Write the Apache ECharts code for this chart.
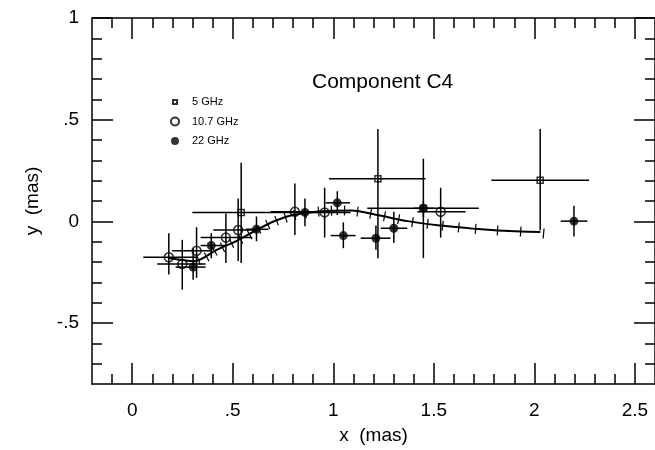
<!DOCTYPE html>
<html><head><meta charset="utf-8">
<script src="https://cdn.jsdelivr.net/npm/echarts@6/dist/echarts.min.js"></script>
<style>html,body{margin:0;padding:0;background:#fff}#c{width:655px;height:450px}</style>
</head><body><div id="c"></div>
<script>
// ---- 5 GHz (open squares) ----
const ghz5X   = [0.542, 1.222, 1.448, 2.029];
const ghz5Y   = [0.044, 0.210, 0.064, 0.202];
const ghz5XLo = [0.299, 0.978, 1.169, 1.786];
const ghz5XHi = [0.804, 1.459, 1.724, 2.272];
const ghz5YLo = [-0.205, -0.181, -0.181, -0.044];
const ghz5YHi = [0.288, 0.454, 0.308, 0.454];

// ---- 10.7 GHz (open circles) ----
const ghz10X   = [0.182, 0.249, 0.320, 0.466, 0.527, 0.809, 0.957, 1.534];
const ghz10Y   = [-0.177, -0.210, -0.145, -0.080, -0.043, 0.047, 0.044, 0.047];
const ghz10XLo = [0.055, 0.124, 0.199, 0.340, 0.403, 0.689, 0.838, 1.418];
const ghz10XHi = [0.323, 0.365, 0.398, 0.597, 0.622, 0.937, 1.086, 1.658];
const ghz10YLo = [-0.262, -0.336, -0.278, -0.205, -0.195, -0.067, -0.080, -0.080];
const ghz10YHi = [-0.059, -0.091, -0.029, 0.039, 0.112, 0.186, 0.165, 0.165];

// ---- 22 GHz (filled circles) ----
const ghz22X   = [0.303, 0.393, 0.618, 0.859, 1.020, 1.050, 1.212, 1.301, 1.448, 2.197];
const ghz22Y   = [-0.225, -0.119, -0.039, 0.044, 0.091, -0.070, -0.083, -0.034, 0.064, 0.001];
const ghz22XLo = [0.216, 0.340, 0.565, 0.788, 0.962, 0.987, 1.136, 1.236, 1.400, 2.131];
const ghz22XHi = [0.365, 0.465, 0.678, 0.922, 1.083, 1.111, 1.285, 1.368, 1.500, 2.264];
const ghz22YLo = [-0.287, -0.181, -0.098, -0.024, 0.031, -0.132, -0.140, -0.107, 0.020, -0.075];
const ghz22YHi = [-0.132, -0.059, 0.024, 0.112, 0.148, -0.005, -0.020, 0.047, 0.100, 0.077];

// ---- model trajectory ----
const modelX = [0.18, 0.25, 0.31, 0.42, 0.52, 0.62, 0.70, 0.80, 0.94, 1.09, 1.22, 1.37, 1.53, 1.72, 1.82, 1.93, 2.03];
const modelY = [-0.180, -0.190, -0.196, -0.140, -0.096, -0.042, -0.002, 0.031, 0.050, 0.053, 0.031, 0.001, -0.021, -0.038, -0.045, -0.050, -0.052];
// time ticks along the model trajectory
const tickX = [0.330, 0.370, 0.410, 0.449, 0.494, 0.539, 0.584, 0.628, 0.674, 0.718, 0.763, 0.808, 0.862, 0.927, 0.991, 1.056, 1.121, 1.186, 1.255, 1.325, 1.394, 1.469, 1.544, 1.624, 1.708, 1.817, 1.932, 2.046];
const tickY = [-0.190, -0.175, -0.147, -0.128, -0.108, -0.087, -0.066, -0.038, -0.016, 0.004, 0.018, 0.031, 0.040, 0.048, 0.052, 0.053, 0.048, 0.038, 0.025, 0.010, -0.004, -0.012, -0.022, -0.030, -0.037, -0.045, -0.050, -0.060];

// ---- axis ticks / labels ----
const xMajorVals = [0, 0.5, 1, 1.5, 2, 2.5];
const xMajorLabels = ['0', '.5', '1', '1.5', '2', '2.5'];
const yMajorVals = [-0.5, 0, 0.5, 1];
const yMajorLabels = ['-.5', '0', '.5', '1'];
const xMin = -0.2, xMax = 2.6, yMin = -0.8, yMax = 1.0;

const xMinorVals = [];
for (let i = -1; i <= 25; i++) { const v = i / 10; if (Math.abs(v * 2 - Math.round(v * 2)) > 1e-6) xMinorVals.push(v); }
const yMinorVals = [];
for (let i = -7; i <= 9; i++) { const v = i / 10; if (Math.abs(v * 2 - Math.round(v * 2)) > 1e-6) yMinorVals.push(v); }

function zip(x, y, xl, xh, yl, yh) { return x.map((v, i) => [v, y[i], xl[i], xh[i], yl[i], yh[i]]); }
const d5 = zip(ghz5X, ghz5Y, ghz5XLo, ghz5XHi, ghz5YLo, ghz5YHi);
const d10 = zip(ghz10X, ghz10Y, ghz10XLo, ghz10XHi, ghz10YLo, ghz10YHi);
const d22 = zip(ghz22X, ghz22Y, ghz22XLo, ghz22XHi, ghz22YLo, ghz22YHi);

const FONT = '"Liberation Sans", Arial, Helvetica, sans-serif';
const LW = 1.5;

function errRender(params, api) {
  const x = api.value(0), y = api.value(1);
  const a = api.coord([api.value(2), y]), b = api.coord([api.value(3), y]);
  const c = api.coord([x, api.value(4)]), d = api.coord([x, api.value(5)]);
  const st = { stroke: '#000', lineWidth: LW, fill: null };
  return { type: 'group', children: [
    { type: 'line', shape: { x1: a[0], y1: a[1], x2: b[0], y2: b[1] }, style: st },
    { type: 'line', shape: { x1: c[0], y1: c[1], x2: d[0], y2: d[1] }, style: st }
  ]};
}

function tickRender(params, api) {
  const i = params.dataIndex;
  const p = api.coord([tickX[i], tickY[i]]);
  const i0 = Math.max(0, i - 1), i1 = Math.min(tickX.length - 1, i + 1);
  const p0 = api.coord([tickX[i0], tickY[i0]]), p1 = api.coord([tickX[i1], tickY[i1]]);
  let dx = p1[0] - p0[0], dy = p1[1] - p0[1];
  const L = Math.hypot(dx, dy) || 1; dx /= L; dy /= L;
  const h = 5;
  return { type: 'line', shape: { x1: p[0] - dy * h, y1: p[1] + dx * h, x2: p[0] + dy * h, y2: p[1] - dx * h },
    style: { stroke: '#000', lineWidth: 1.2 } };
}

function labelFmt(vals, labs) { return v => { const k = vals.findIndex(t => Math.abs(t - v) < 1e-6); return k >= 0 ? labs[k] : ''; }; }

function mkX(pos, vals, len, showLine, showLabel, extra) {
  return Object.assign({
    type: 'value', position: pos, min: xMin, max: xMax, gridIndex: 0,
    splitLine: { show: false },
    axisLine: { show: showLine, onZero: false, lineStyle: { color: '#000', width: LW } },
    axisTick: { show: true, inside: true, length: len, customValues: vals, lineStyle: { color: '#000', width: LW } },
    axisLabel: showLabel ? { show: true, customValues: xMajorVals, formatter: labelFmt(xMajorVals, xMajorLabels), color: '#000', fontSize: 19, fontFamily: FONT, margin: 17 } : { show: false }
  }, extra || {});
}
function mkY(pos, vals, len, showLine, showLabel, extra) {
  return Object.assign({
    type: 'value', position: pos, min: yMin, max: yMax, gridIndex: 0,
    splitLine: { show: false },
    axisLine: { show: showLine, onZero: false, lineStyle: { color: '#000', width: LW } },
    axisTick: { show: true, inside: true, length: len, customValues: vals, lineStyle: { color: '#000', width: LW } },
    axisLabel: showLabel ? { show: true, customValues: yMajorVals, formatter: labelFmt(yMajorVals, yMajorLabels), color: '#000', fontSize: 19, fontFamily: FONT, margin: 13 } : { show: false }
  }, extra || {});
}

const chart = echarts.init(document.getElementById('c'), null, { renderer: 'canvas' });
chart.setOption({
  animation: false,
  backgroundColor: '#fff',
  title: { text: 'Component C4', left: 307, top: 67, textStyle: { fontSize: 21, fontWeight: 'normal', color: '#000', fontFamily: FONT } },
  legend: {
    orient: 'vertical', left: 165, top: 91, itemWidth: 24, itemHeight: 8, itemGap: 7.5,
    textStyle: { fontSize: 11, color: '#000', fontFamily: FONT, lineHeight: 12 },
    data: [
      { name: '5 GHz', icon: 'path://M0,0M20,20M5,5L15,5L15,15L5,15Z' },
      { name: '10.7 GHz', icon: 'circle' },
      { name: '22 GHz', icon: 'circle' }
    ]
  },
  grid: { left: 92, right: -1, top: 18, bottom: 63, containLabel: false },
  xAxis: [
    mkX('bottom', xMinorVals, 10, true, true, { name: 'x  (mas)', nameLocation: 'middle', nameGap: 42, nameTextStyle: { fontSize: 19, color: '#000', fontFamily: FONT } }),
    mkX('bottom', xMajorVals, 21, false, false),
    mkX('top', xMinorVals, 10, true, false),
    mkX('top', xMajorVals, 21, false, false)
  ],
  yAxis: [
    mkY('left', yMinorVals, 10, true, true, { name: 'y  (mas)', nameLocation: 'middle', nameGap: 50, nameTextStyle: { fontSize: 19, color: '#000', fontFamily: FONT } }),
    mkY('left', yMajorVals, 21, false, false),
    mkY('right', yMinorVals, 10, true, false),
    mkY('right', yMajorVals, 21, false, false)
  ],
  series: [
    { type: 'line', name: 'model', data: modelX.map((v, i) => [v, modelY[i]]), smooth: 0.3, symbol: 'none',
      lineStyle: { color: '#000', width: 2 }, z: 2, silent: true },
    { type: 'custom', name: 'modelTicks', data: tickX.map((v, i) => [v, tickY[i]]), renderItem: tickRender, z: 2, silent: true },
    { type: 'custom', name: 'err5', data: d5, renderItem: errRender, z: 3, silent: true, encode: { x: [0, 2, 3], y: [1, 4, 5] } },
    { type: 'custom', name: 'err10', data: d10, renderItem: errRender, z: 3, silent: true, encode: { x: [0, 2, 3], y: [1, 4, 5] } },
    { type: 'custom', name: 'err22', data: d22, renderItem: errRender, z: 3, silent: true, encode: { x: [0, 2, 3], y: [1, 4, 5] } },
    { type: 'scatter', name: '5 GHz', data: ghz5X.map((v, i) => [v, ghz5Y[i]]), symbol: 'rect', symbolSize: 6,
      itemStyle: { color: 'rgba(0,0,0,0)', borderColor: '#000', borderWidth: 1.5 }, z: 5 },
    { type: 'scatter', name: '10.7 GHz', data: ghz10X.map((v, i) => [v, ghz10Y[i]]), symbol: 'circle', symbolSize: 9,
      itemStyle: { color: 'rgba(0,0,0,0)', borderColor: '#000', borderWidth: 1.5 }, z: 5 },
    { type: 'scatter', name: '22 GHz', data: ghz22X.map((v, i) => [v, ghz22Y[i]]), symbol: 'circle', symbolSize: 9,
      itemStyle: { color: '#000', borderColor: '#000', borderWidth: 0 }, z: 5 }
  ]
});
</script></body></html>
